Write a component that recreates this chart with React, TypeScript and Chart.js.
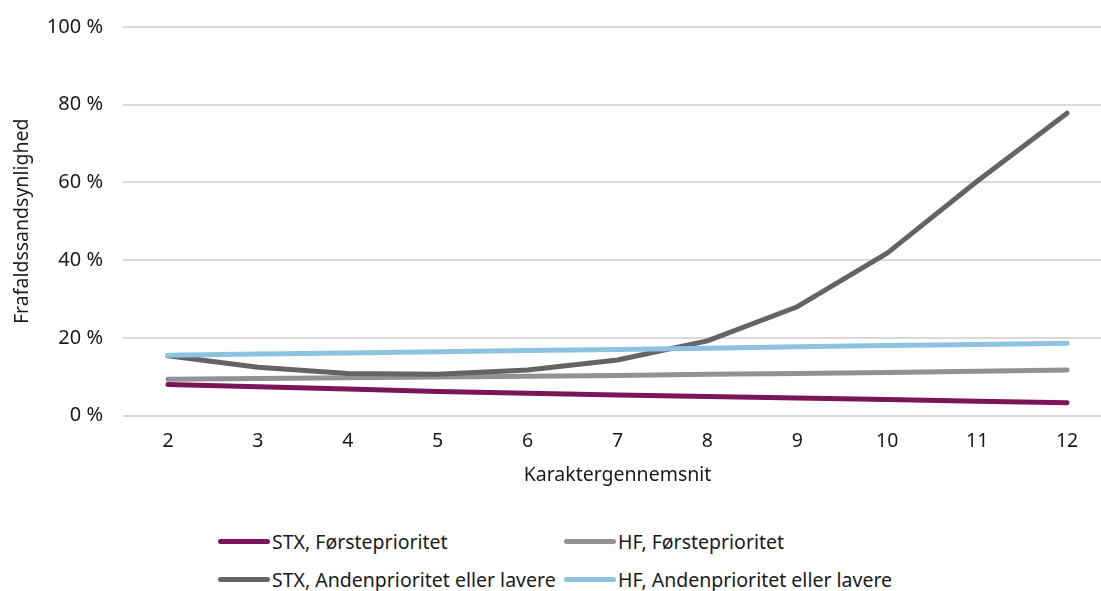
import React, { useEffect, useRef } from "react";
import { Chart, registerables } from "chart.js";

Chart.register(...registerables);

const categories = ["2", "3", "4", "5", "6", "7", "8", "9", "10", "11", "12"];
const stxFoerste = [8.0, 7.4, 6.8, 6.2, 5.7, 5.3, 4.9, 4.5, 4.1, 3.7, 3.3];
const hfFoerste = [9.3, 9.5, 9.7, 9.9, 10.1, 10.3, 10.6, 10.8, 11.1, 11.4, 11.7];
const stxAnden = [15.4, 12.4, 10.8, 10.6, 11.7, 14.3, 19.2, 28.0, 41.8, 60.3, 77.8];
const hfAnden = [15.5, 15.8, 16.1, 16.4, 16.7, 17.0, 17.3, 17.7, 18.0, 18.3, 18.6];
const yTicks = [0, 20, 40, 60, 80, 100];

const seriesNames = [
  "STX, Førsteprioritet",
  "HF, Førsteprioritet",
  "STX, Andenprioritet eller lavere",
  "HF, Andenprioritet eller lavere",
];
const seriesColors = ["#7a1558", "#929292", "#646464", "#8cc3e1"];
const seriesData = [stxFoerste, hfFoerste, stxAnden, hfAnden];

const FONT = "'Noto Sans', sans-serif";
const TEXT = "#1a1a1a";
const FS = 19.5;

export default function App() {
  const ref = useRef<HTMLCanvasElement | null>(null);

  useEffect(() => {
    if (!ref.current) return;
    const datasets = seriesNames
      .map((name, i) => ({
        label: name,
        data: seriesData[i],
        borderColor: seriesColors[i],
        backgroundColor: seriesColors[i],
        borderWidth: 5,
        pointRadius: 0,
        tension: 0,
        borderCapStyle: "round" as const,
        borderJoinStyle: "round" as const,
        fill: false,
      }))
      .reverse();
    const chart = new Chart(ref.current, {
      type: "line",
      data: { labels: categories, datasets },
      options: {
        animation: false,
        responsive: false,
        maintainAspectRatio: false,
        layout: { padding: { top: 27, right: 0, bottom: 0, left: 0 } },
        plugins: { legend: { display: false }, tooltip: { enabled: false } },
        scales: {
          x: {
            type: "category",
            offset: true,
            grid: { display: false, drawTicks: false },
            border: { display: false },
            ticks: { color: TEXT, font: { family: FONT, size: FS }, padding: 14, maxRotation: 0 },
            title: {
              display: true,
              text: "Karaktergennemsnit",
              color: TEXT,
              font: { family: FONT, size: FS },
              padding: { top: 0, bottom: 0 },
            },
            afterFit: (s: any) => {
              s.height = 71.5;
              s.paddingLeft = 0;
              s.paddingRight = 0;
            },
          },
          y: {
            min: 0,
            max: 100,
            afterBuildTicks: (s: any) => {
              s.ticks = yTicks.map((v) => ({ value: v }));
            },
            grid: { color: "#d9d9d9", lineWidth: 2, drawTicks: false },
            border: { display: false },
            ticks: {
              color: TEXT,
              font: { family: FONT, size: 20 },
              padding: 20,
              callback: (v: any) => `${v} %`,
            },
            title: {
              display: true,
              text: "Frafaldssandsynlighed",
              color: TEXT,
              font: { family: FONT, size: FS },
              padding: { top: 11, bottom: 0 },
            },
            afterFit: (s: any) => {
              s.width = 123;
              s.paddingTop = 0;
              s.paddingBottom = 0;
            },
          },
        },
      },
    });
    return () => chart.destroy();
  }, []);

  const legendPos = [
    { left: 218, top: 541 },
    { left: 564, top: 541 },
    { left: 218, top: 579 },
    { left: 564, top: 579 },
  ];

  return (
    <div
      style={{
        position: "fixed",
        left: 0,
        top: 0,
        width: 1101,
        height: 591,
        overflow: "hidden",
        background: "#fff",
      }}
    >
      <canvas ref={ref} width={1112} height={487} style={{ display: "block", width: 1112, height: 487 }} />
      {seriesNames.map((name, i) => (
        <div
          key={name}
          style={{
            position: "absolute",
            left: legendPos[i].left,
            top: legendPos[i].top - 13,
            height: 26,
            display: "flex",
            alignItems: "center",
            whiteSpace: "nowrap",
            fontFamily: FONT,
            fontSize: FS,
            color: TEXT,
          }}
        >
          <span
            style={{
              display: "inline-block",
              width: 52,
              height: 5,
              borderRadius: 3,
              background: seriesColors[i],
              marginRight: 2,
            }}
          />
          <span>{name}</span>
        </div>
      ))}
    </div>
  );
}
